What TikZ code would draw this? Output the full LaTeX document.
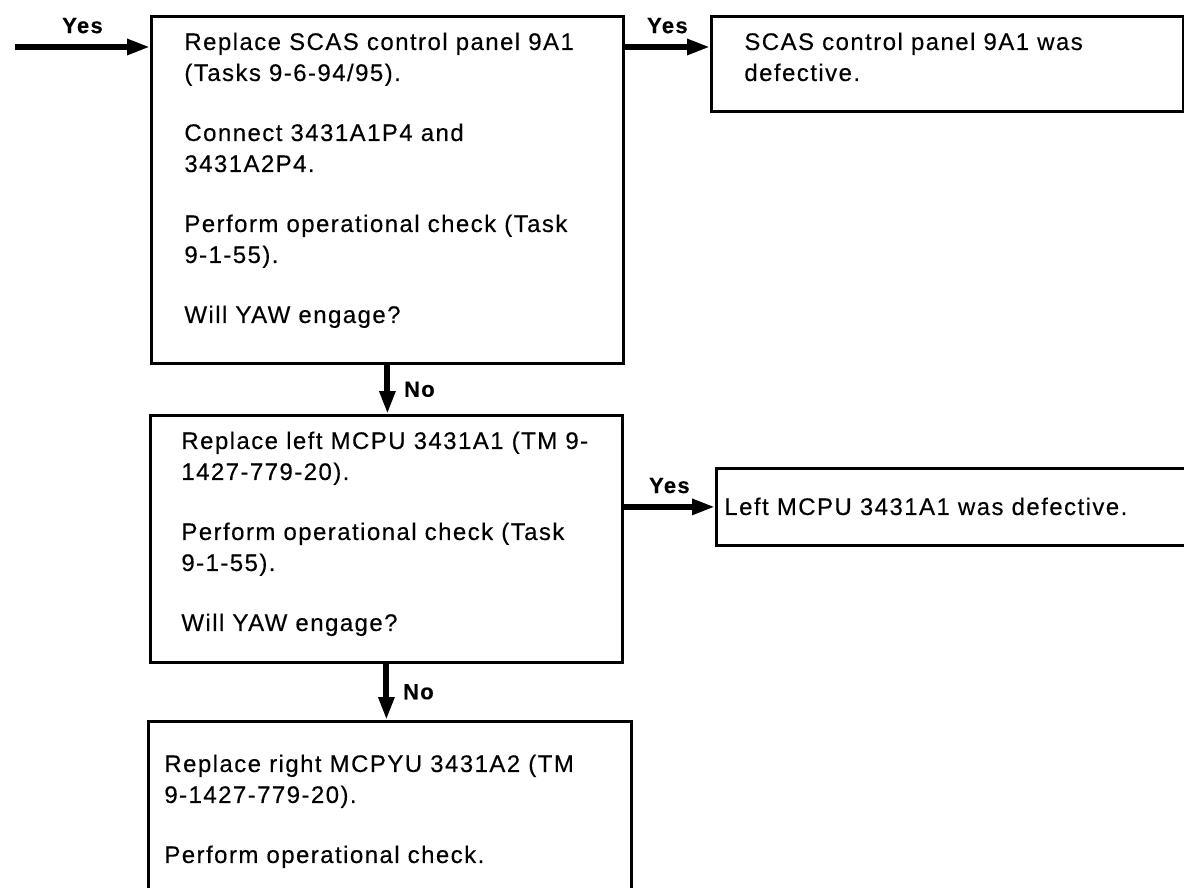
\documentclass[tikz,border=0pt]{standalone}
\usepackage{fontspec}
\setmainfont{Liberation Sans}[LetterSpace=6, FakeBold=0.3]
\usepackage{tikz}
\usetikzlibrary{arrows.meta}
\newcommand{\boxfont}{\fontsize{12pt}{15.5pt}\selectfont}
\newcommand{\paragap}{\\[14.5pt]}
\tikzset{
  box/.style={
    draw,
    line width=1.4pt,
    anchor=north west,
    inner ysep=8.1pt,
    font=\boxfont
  },
  answer/.style={font=\bfseries\fontsize{11pt}{12pt}\selectfont},
  arrow/.style={-{Triangle[length=11.5pt,width=7.5pt]}, line width=3pt}
}
\begin{document}
\begin{tikzpicture}[x=0.5pt, y=-0.5pt]
        \useasboundingbox (0,0) rectangle (1184,888);
        \node[box, inner xsep=16.5pt] (replacepanel) at (150,15) {\parbox[t][157.2pt][t]{203pt}{Replace SCAS control panel 9A1\\ (Tasks 9-6-94/95).\paragap Connect 3431A1P4 and\\ 3431A2P4.\paragap Perform operational check (Task\\ 9-1-55).\paragap Will YAW engage?}};
        \node[box, inner xsep=16.5pt] (paneldefect) at (710,15) {\parbox[t][31.2pt][t]{203pt}{SCAS control panel 9A1 was\\ defective.}};
        \node[box, inner xsep=15.5pt] (replaceleft) at (149,414) {\parbox[t][107.2pt][t]{205pt}{Replace left MCPU 3431A1 (TM 9-\\ 1427-779-20).\paragap Perform operational check (Task\\ 9-1-55).\paragap Will YAW engage?}};
        \node[box, inner xsep=4pt, inner ysep=14.6pt] (leftdefect) at (715,467) {\parbox[t][9.3pt][t]{235pt}{Left MCPU 3431A1 was defective.}};
        \node[box, inner xsep=8pt, inner ysep=16.6pt] (replaceright) at (147,720) {\parbox[t][56.8pt][t]{225.5pt}{Replace right MCPYU 3431A2 (TM\\ 9-1427-779-20).\paragap Perform operational check.}};
        \coordinate (entry) at (15,47);
        % connectors
        \draw[arrow] (entry) -- (entry -| replacepanel.west) node[answer, midway, above=2pt] {Yes};
        \draw[arrow] (entry -| replacepanel.east) -- (entry -| paneldefect.west) node[answer, midway, above=2pt] {Yes};
        \draw[arrow] (replacepanel.south) -- (replacepanel.south |- replaceleft.north) node[answer, midway, right=3.5pt] {No};
        \draw[arrow] (leftdefect.west -| replaceleft.east) -- (leftdefect.west) node[answer, midway, above=2pt] {Yes};
        \draw[arrow] (replaceleft.south) -- (replaceleft.south |- replaceright.north) node[answer, midway, right=3.5pt] {No};
      \end{tikzpicture}
\end{document}
